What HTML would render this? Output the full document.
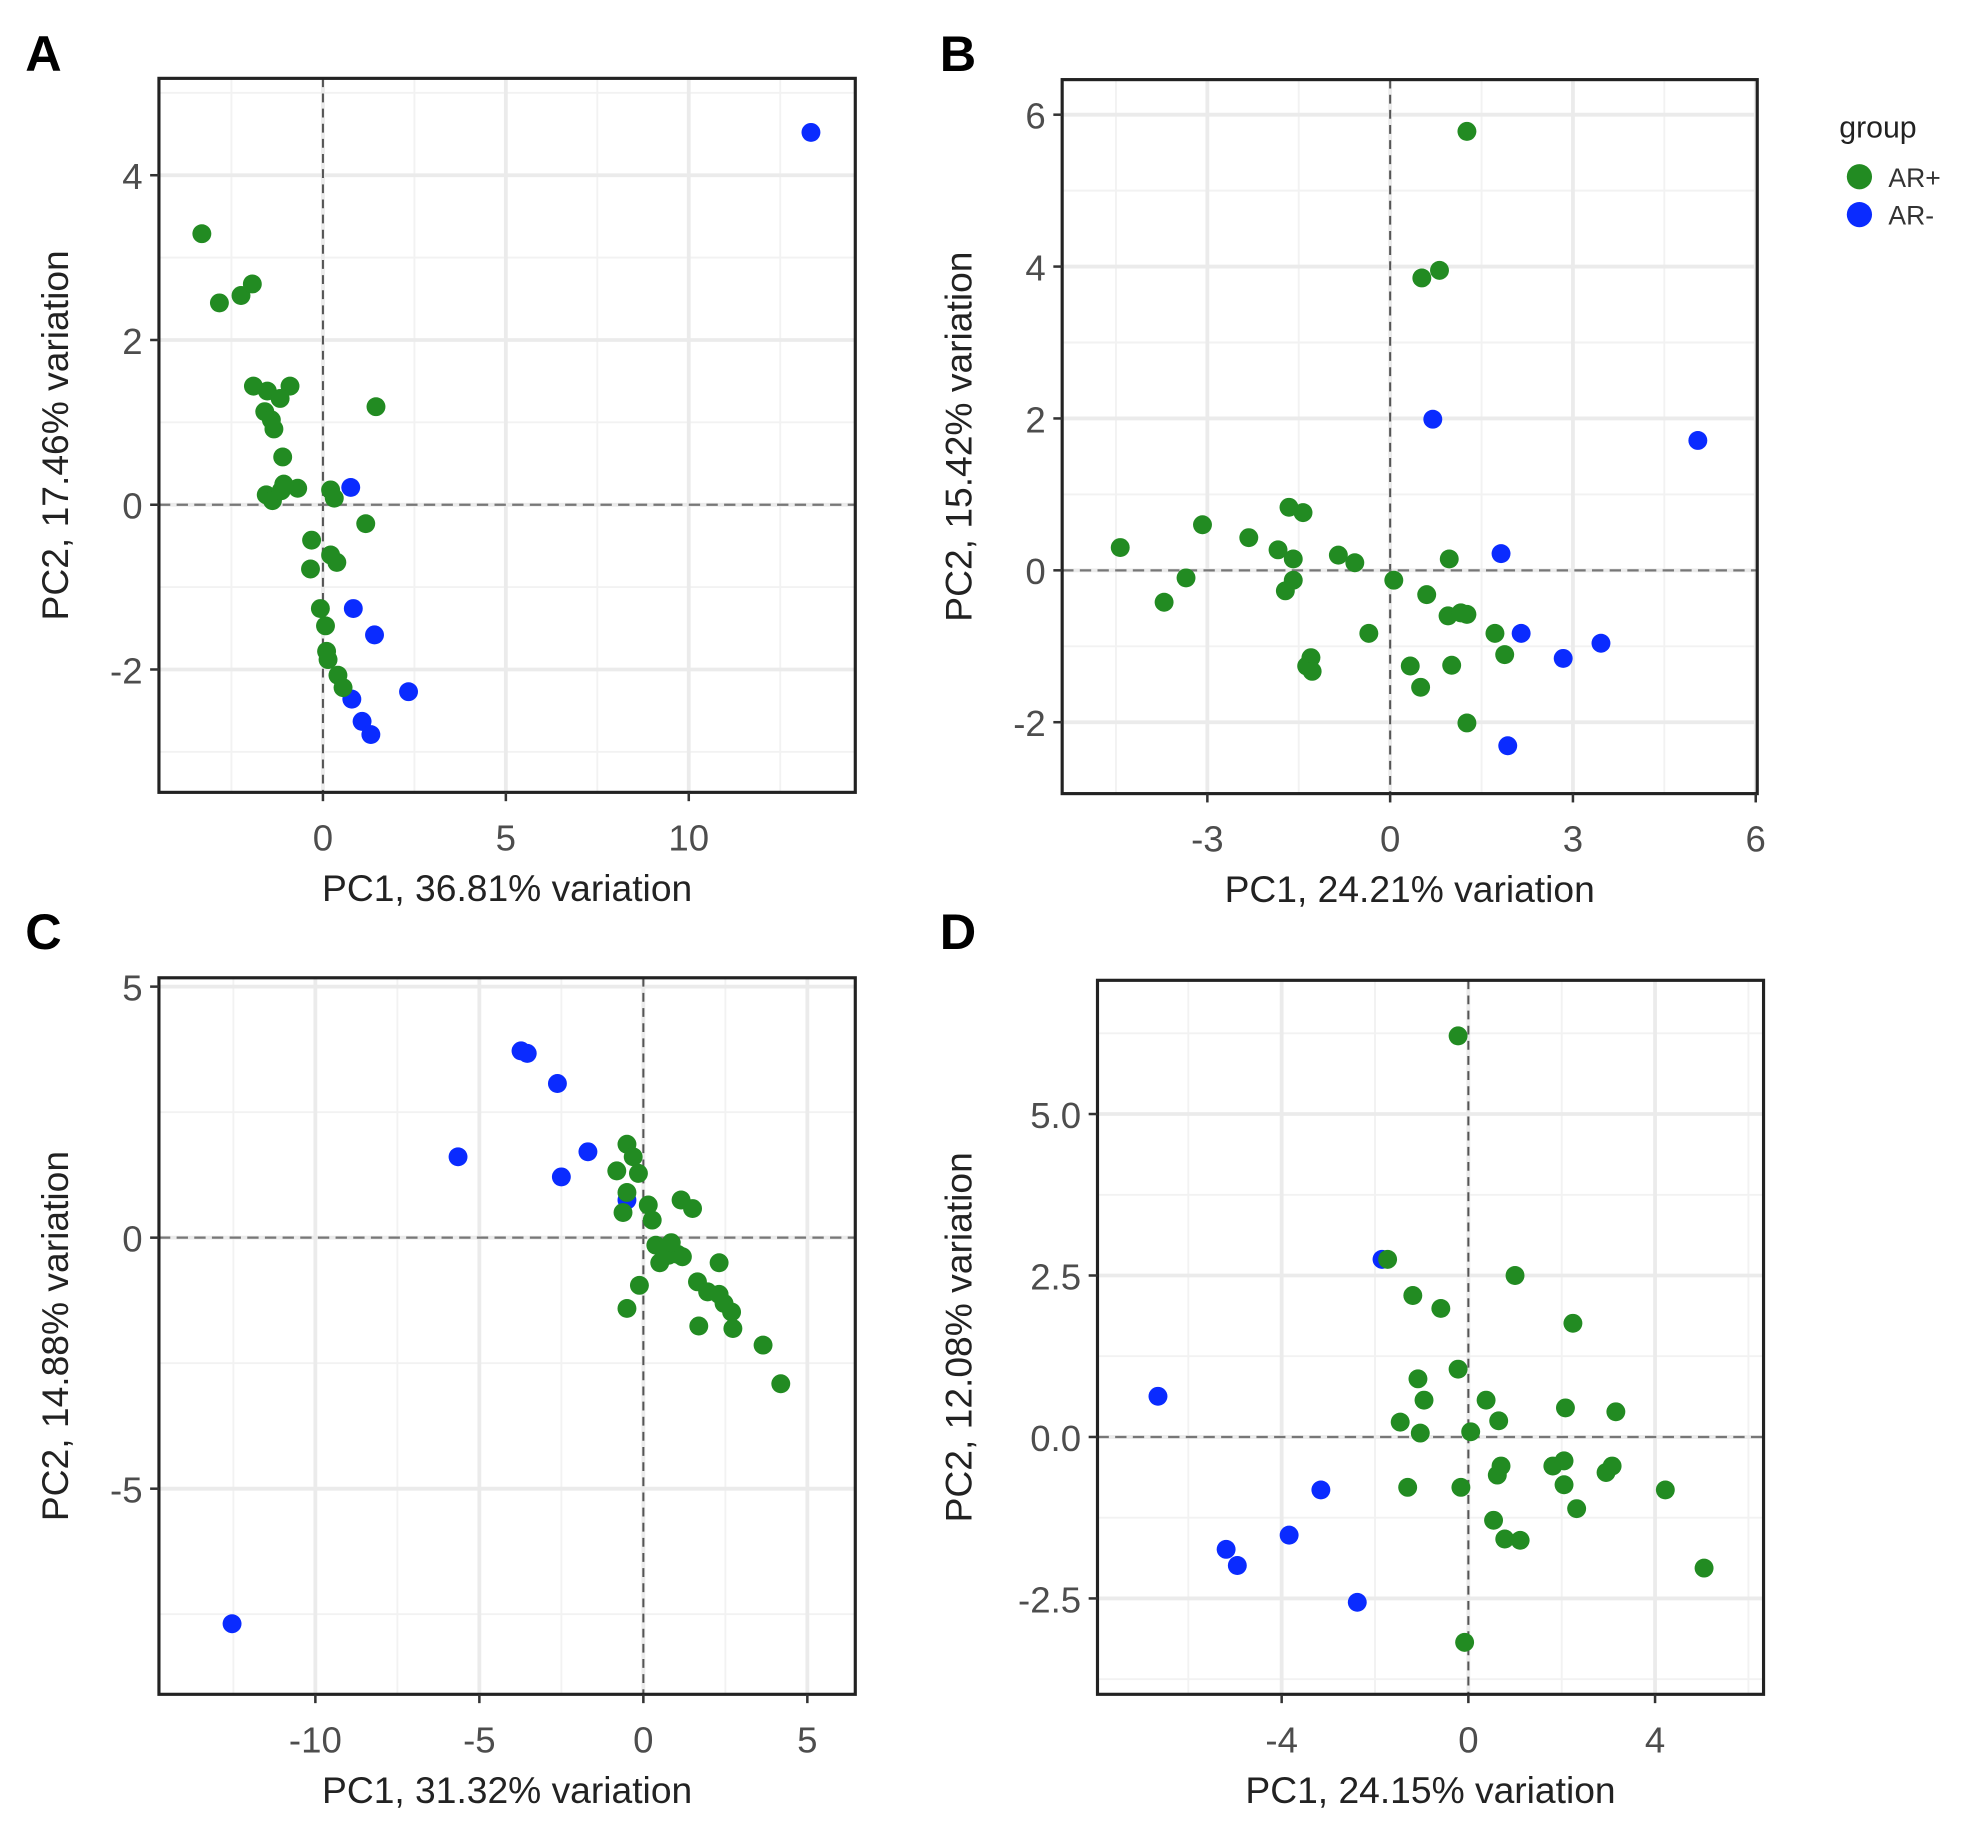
<!DOCTYPE html>
<html><head><meta charset="utf-8"><style>
html,body{margin:0;padding:0;background:#fff;}
svg{display:block;font-family:"Liberation Sans",Arial,sans-serif;}
</style></head><body>
<svg id="fig" width="1978" height="1837" viewBox="0 0 1568 1456" xmlns="http://www.w3.org/2000/svg"></svg>
<script>
// ---- Panel A data ----
const aGreenX = [-3.31,-2.83,-2.24,-1.93,-1.9,-1.52,-0.9,-1.17,-1.59,-1.41,-1.34,-1.1,-1.55,-1.38,-1.14,-0.69,-1.07,0.21,0.31,1.45,1.17,-0.31,-0.34,0.21,0.38,-0.07,0.07,0.1,0.14,0.41,0.55];
const aGreenY = [3.29,2.45,2.54,2.68,1.44,1.38,1.44,1.29,1.13,1.03,0.92,0.58,0.12,0.05,0.17,0.2,0.25,0.18,0.08,1.19,-0.23,-0.43,-0.78,-0.61,-0.7,-1.26,-1.47,-1.78,-1.88,-2.07,-2.22];
const aBlueX = [13.34,0.76,0.83,1.41,2.34,0.79,1.07,1.31];
const aBlueY = [4.52,0.21,-1.26,-1.58,-2.27,-2.36,-2.63,-2.79];
const aXTicks = [0,5,10];
const aYTicks = [-2,0,2,4];
// ---- Panel B data ----
const bGreenX = [1.26,0.52,0.81,-4.43,-3.08,-2.32,-1.66,-1.43,-1.84,-1.59,-0.85,-0.58,0.97,-3.35,-3.71,-1.59,-1.72,0.06,0.6,0.95,1.16,1.26,-0.35,1.72,1.88,-1.3,-1.37,-1.28,0.33,1.01,0.5,1.26];
const bGreenY = [5.78,3.85,3.95,0.3,0.6,0.43,0.83,0.76,0.27,0.15,0.2,0.1,0.15,-0.1,-0.42,-0.13,-0.27,-0.13,-0.32,-0.6,-0.56,-0.58,-0.83,-0.83,-1.11,-1.15,-1.26,-1.33,-1.26,-1.25,-1.54,-2.01];
const bBlueX = [0.7,5.05,1.82,2.15,2.84,3.46,1.93];
const bBlueY = [1.99,1.71,0.22,-0.83,-1.16,-0.96,-2.31];
const bXTicks = [-3,0,3,6];
const bYTicks = [-2,0,2,4,6];
// ---- Panel C data ----
const cGreenX = [-0.5,-0.31,-0.81,-0.15,-0.5,-0.62,0.15,0.27,1.15,1.5,0.38,0.65,0.5,0.77,1.04,1.19,0.85,-0.12,-0.5,2.31,1.65,1.96,2.31,2.46,2.69,1.69,2.73,3.65,4.19];
const cGreenY = [1.86,1.61,1.33,1.28,0.9,0.5,0.65,0.35,0.75,0.58,-0.15,-0.23,-0.5,-0.35,-0.33,-0.38,-0.1,-0.95,-1.41,-0.5,-0.88,-1.08,-1.13,-1.31,-1.48,-1.76,-1.81,-2.14,-2.91];
const cBlueX = [-12.54,-5.65,-3.73,-3.54,-2.62,-2.5,-1.69,-0.5];
const cBlueY = [-7.69,1.61,3.72,3.67,3.07,1.21,1.71,0.75];
const cXTicks = [-10,-5,0,5];
const cYTicks = [-5,0,5];
// ---- Panel D data ----
const dGreenX = [-0.22,-1.73,-1.19,-0.59,1.0,2.24,-1.08,-0.22,-0.95,0.38,-1.46,-1.03,0.05,0.65,2.08,3.16,-1.3,-0.16,0.62,0.7,1.81,2.05,2.05,2.95,3.08,2.32,0.54,0.78,1.11,4.22,5.05,-0.08];
const dGreenY = [6.21,2.75,2.19,1.99,2.5,1.76,0.9,1.05,0.57,0.57,0.23,0.06,0.08,0.25,0.45,0.39,-0.78,-0.78,-0.59,-0.45,-0.45,-0.37,-0.74,-0.55,-0.45,-1.11,-1.29,-1.58,-1.6,-0.82,-2.03,-3.18];
const dBlueX = [-6.65,-5.19,-4.95,-3.84,-3.16,-2.38,-1.85];
const dBlueY = [0.63,-1.74,-1.99,-1.52,-0.82,-2.56,2.75];
const dXTicks = [-4,0,4];
const dYTicks = [-2.5,0,2.5,5];

const NS = "http://www.w3.org/2000/svg";
const svg = document.getElementById('fig');
function el(tag, attrs, parent){ const e=document.createElementNS(NS,tag); for(const k in attrs) e.setAttribute(k,attrs[k]); (parent||svg).appendChild(e); return e; }

const GREEN="#228b22", BLUE="#0a2bff";
function panel(cfg){
  const g = el('g',{});
  
  
  const sx = v => cfg.x0 + (v - cfg.xv0) * cfg.xs;
  const sy = v => cfg.y0 - (v - cfg.yv0) * cfg.ys;
  const [L,R,T,B] = cfg.box;
  cfg.xMinor.forEach(v=>{ const l=el('line',{x1:sx(v),x2:sx(v),y1:T,y2:B,stroke:'#f2f2f2','stroke-width':1.5},g);   });
  cfg.yMinor.forEach(v=>{ const l=el('line',{x1:L,x2:R,y1:sy(v),y2:sy(v),stroke:'#f2f2f2','stroke-width':1.5},g);   });
  cfg.xTicks.forEach(v=>{ const l=el('line',{x1:sx(v),x2:sx(v),y1:T,y2:B,stroke:'#ebebeb','stroke-width':3},g);   });
  cfg.yTicks.forEach(v=>{ const l=el('line',{x1:L,x2:R,y1:sy(v),y2:sy(v),stroke:'#ebebeb','stroke-width':3},g);   });
  const zx = el('line',{x1:sx(0),x2:sx(0),y1:T,y2:B,stroke:'#555','stroke-width':1.6,'stroke-dasharray':'7,5'},g);
   
  const zy = el('line',{x1:L,x2:R,y1:sy(0),y2:sy(0),stroke:'#777','stroke-width':1.8,'stroke-dasharray':'9,5'},g);
   
  cfg.bx.forEach((v,i)=>{ const c=el('circle',{cx:sx(v),cy:sy(cfg.by[i]),r:7.5,fill:BLUE},g);   });
  cfg.gx.forEach((v,i)=>{ const c=el('circle',{cx:sx(v),cy:sy(cfg.gy[i]),r:7.5,fill:GREEN},g);   });
  const f = el('rect',{x:L,y:T,width:R-L,height:B-T,fill:'none',stroke:'#222','stroke-width':2.5},g);
   
  cfg.xTicks.forEach(v=>{
    const t=el('line',{x1:sx(v),x2:sx(v),y1:B,y2:B+7,stroke:'#333','stroke-width':2},g);
     
    const tx=el('text',{x:sx(v),y:B+46,'text-anchor':'middle','font-size':29,fill:'#4d4d4d'},g);
    tx.textContent = v;  
  });
  cfg.yTicks.forEach(v=>{
    const t=el('line',{x1:L-7,x2:L,y1:sy(v),y2:sy(v),stroke:'#333','stroke-width':2},g);
     
    const tx=el('text',{x:L-13,y:sy(v)+11,'text-anchor':'end','font-size':29,fill:'#4d4d4d'},g);
    tx.textContent = cfg.yFmt ? v.toFixed(1) : v;  
  });
  const xt=el('text',{x:(L+R)/2,y:B+86,'text-anchor':'middle','font-size':29.5,fill:'#222'},g);
  xt.textContent=cfg.xTitle;  
  const yt=el('text',{x:0,y:0,'text-anchor':'middle','font-size':29.5,fill:'#222',transform:`translate(${cfg.yTitleX},${(T+B)/2}) rotate(-90)`},g);
  yt.textContent=cfg.yTitle;  
  const lt=el('text',{x:cfg.lx,y:cfg.ly,'font-size':40,'font-weight':'bold',fill:'#000'},g);
  lt.textContent=cfg.id;  
}

panel({id:'A',box:[126,678,62,628],x0:256,xv0:0,xs:29,y0:400,yv0:0,ys:65.3,
  xTicks:aXTicks,yTicks:aYTicks,xMinor:[-2.5,2.5,7.5,12.5],yMinor:[-3,-1,1,3,5],
  gx:aGreenX,gy:aGreenY,bx:aBlueX,by:aBlueY,xTitle:'PC1, 36.81% variation',yTitle:'PC2, 17.46% variation',yTitleX:54,lx:20,ly:56});
panel({id:'B',box:[842,1393,63,629],x0:1102,xv0:0,xs:48.3,y0:452,yv0:0,ys:60.2,
  xTicks:bXTicks,yTicks:bYTicks,xMinor:[-4.5,-1.5,1.5,4.5],yMinor:[-1,1,3,5],
  gx:bGreenX,gy:bGreenY,bx:bBlueX,by:bBlueY,xTitle:'PC1, 24.21% variation',yTitle:'PC2, 15.42% variation',yTitleX:770,lx:745,ly:56});
panel({id:'C',box:[126,678,775,1343],x0:510,xv0:0,xs:26,y0:981,yv0:0,ys:39.8,
  xTicks:cXTicks,yTicks:cYTicks,xMinor:[-12.5,-7.5,-2.5,2.5],yMinor:[-7.5,-2.5,2.5],
  gx:cGreenX,gy:cGreenY,bx:cBlueX,by:cBlueY,xTitle:'PC1, 31.32% variation',yTitle:'PC2, 14.88% variation',yTitleX:54,lx:20,ly:752});
panel({id:'D',box:[870,1398,777,1343],x0:1164,xv0:0,xs:37,y0:1139,yv0:0,ys:51.2,yFmt:true,
  xTicks:dXTicks,yTicks:dYTicks,xMinor:[-6,-2,2,6],yMinor:[-3.75,-1.25,1.25,3.75,6.25],
  gx:dGreenX,gy:dGreenY,bx:dBlueX,by:dBlueY,xTitle:'PC1, 24.15% variation',yTitle:'PC2, 12.08% variation',yTitleX:770,lx:745,ly:752});

const lg = el('g',{});
 
const lgt = el('text',{x:1458,y:109,'font-size':24,fill:'#222'},lg);
lgt.textContent='group';  
const l1=el('circle',{cx:1474,cy:140,r:10,fill:GREEN},lg);
 
const l1t=el('text',{x:1497,y:148,'font-size':21,fill:'#333'},lg);
l1t.textContent='AR+';  
const l2=el('circle',{cx:1474,cy:170,r:10,fill:BLUE},lg);
 
const l2t=el('text',{x:1497,y:178,'font-size':21,fill:'#333'},lg);
l2t.textContent='AR-';  
</script>
</body></html>
